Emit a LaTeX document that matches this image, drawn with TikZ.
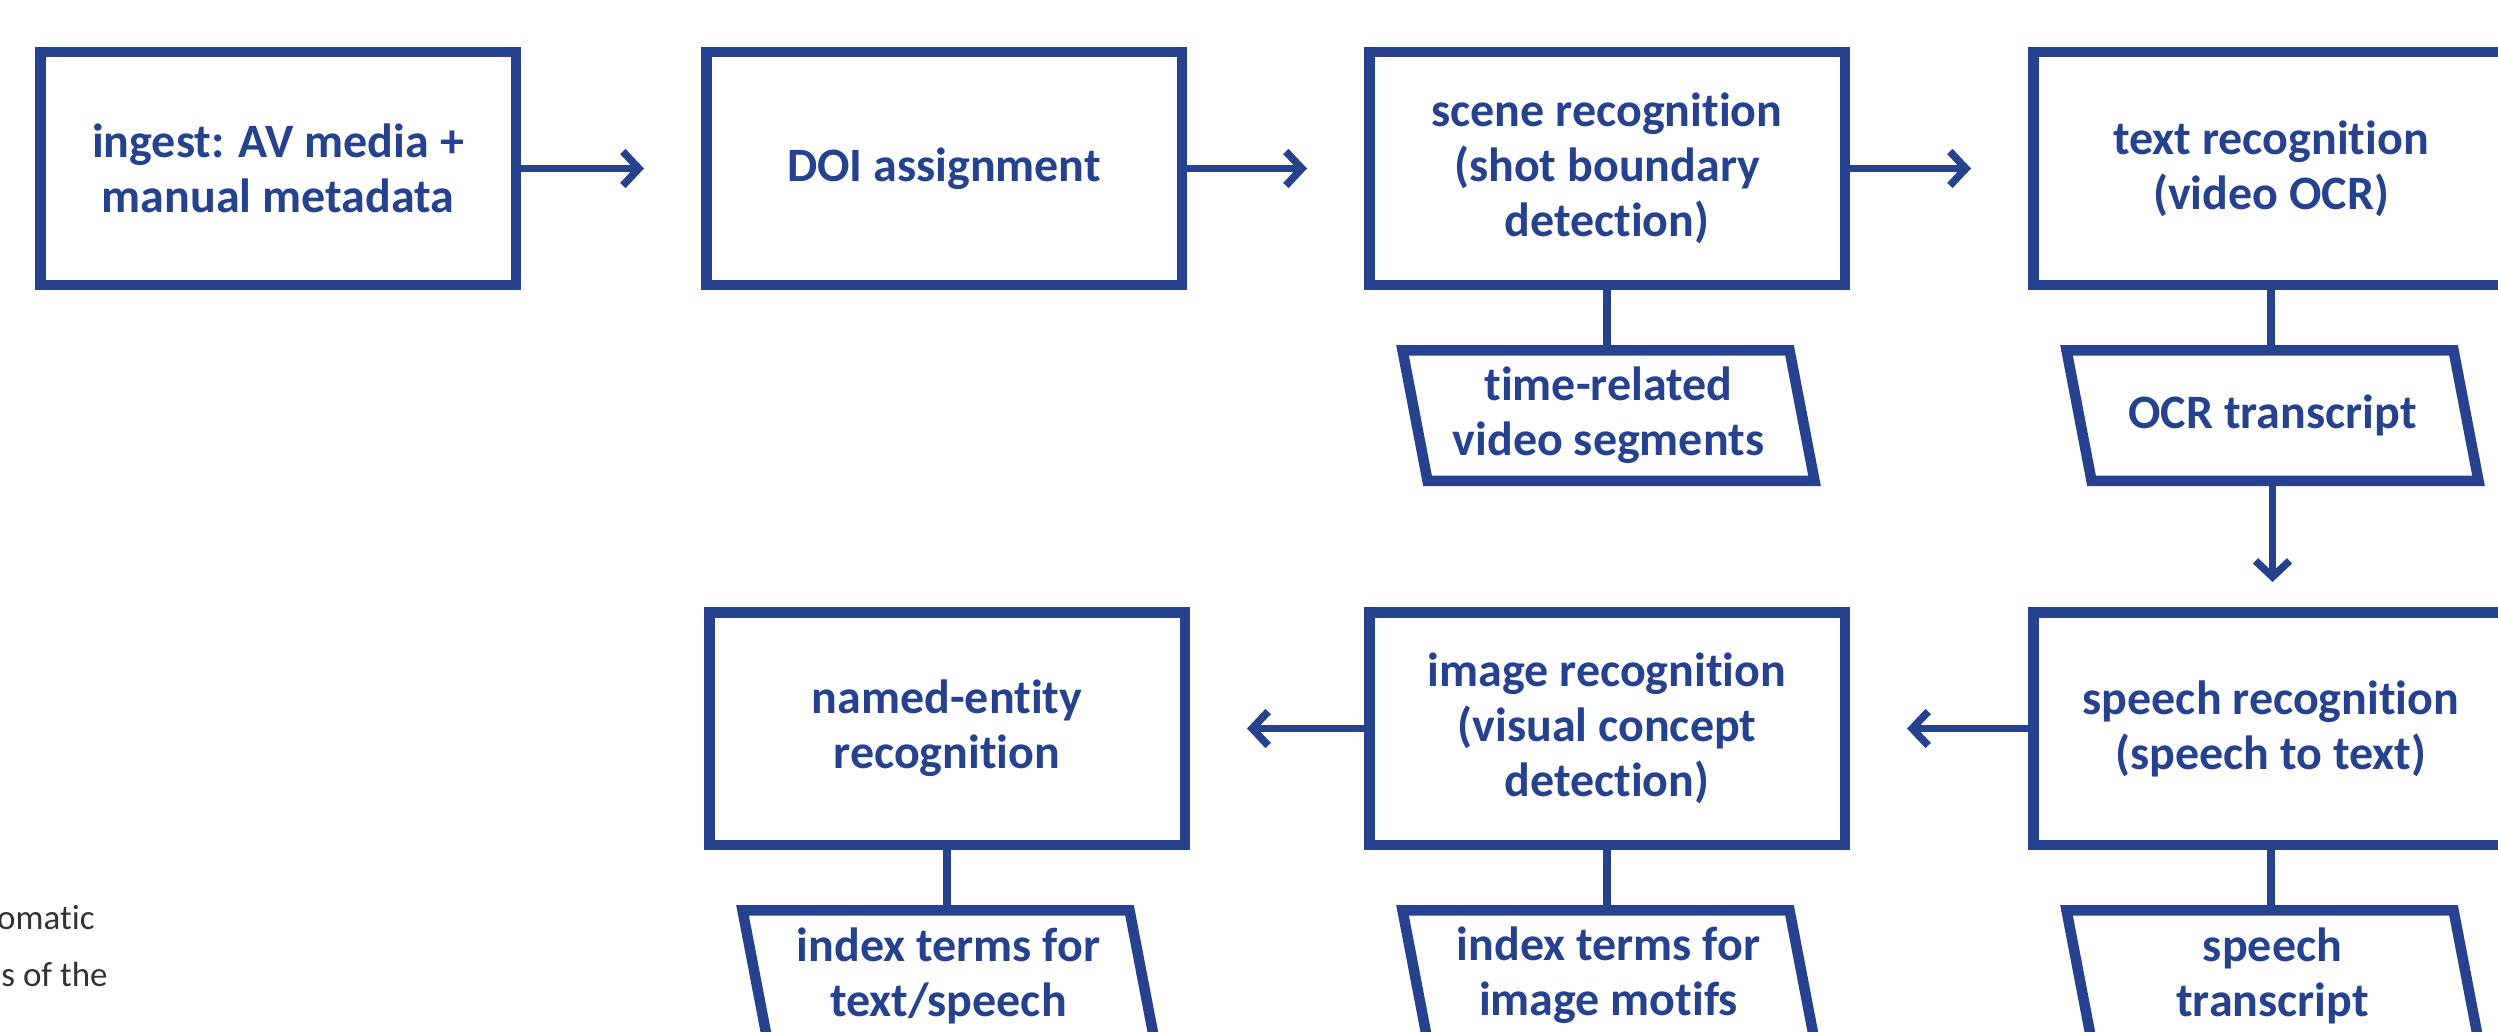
\documentclass[tikz,border=0pt]{standalone}
\usepackage{fontspec}
\setmainfont{Carlito}[Ligatures=NoCommon]
\usetikzlibrary{arrows.meta,calc}
\definecolor{dblue}{RGB}{38,66,143}
\definecolor{dgray}{RGB}{51,51,51}
\begin{document}
\begin{tikzpicture}[x=0.5pt,y=-0.5pt,
  procbox/.style={draw=dblue,line width=5.25pt,minimum width=237.75pt,minimum height=116.25pt,
    inner sep=0pt,align=center,text=dblue,font=\bfseries\fontsize{24pt}{27.5pt}\selectfont},
  datatext/.style={minimum width=180pt,minimum height=70.5pt,inner sep=0pt,outer sep=0pt,
    align=center,text=dblue,font=\bfseries\fontsize{24pt}{27.5pt}\selectfont},
  dataline/.style={draw=dblue,line width=5.25pt,line join=miter},
  conn/.style={draw=dblue,line width=3.75pt},
  arr/.style={draw=dblue,line width=3.75pt,-{Straight Barb[length=8pt,width=17pt,line join=miter]},shorten >=28.5pt},
  note/.style={text=dgray,inner sep=0pt,font=\fontsize{17.5pt}{21pt}\selectfont}]
\useasboundingbox (0,0) rectangle (2498,1032);
\clip (0,0) rectangle (2498,1032);
% process boxes
\node[procbox] (b1) at (278,168.5) {ingest: AV media +\\manual metadata};
\node[procbox] (b2) at (944,168.5) {DOI assignment};
\node[procbox] (b3) at (1607,168.5) {scene recognition\\(shot boundary\\detection)};
\node[procbox] (b4) at (2271,168.5) {text recognition\\(video OCR)};
\node[procbox] (b5) at (2271,728.5) {speech recognition\\(speech to text)};
\node[procbox] (b6) at (1607,728.5) {image recognition\\(visual concept\\detection)};
\node[procbox] (b7) at (947,728.5) {named-entity\\recognition};
% data nodes
\node[datatext] (p3) at (1608.5,415.5) {time-related\\video segments};
\node[datatext] (p4) at (2272.5,415.5) {OCR transcript};
\node[datatext] (p5) at (2272.5,975.5) {speech\\transcript};
\node[datatext] (p6) at (1608.5,975.5) {index terms for\\image motifs};
\node[datatext] (p7) at (948.5,975.5) {index terms for\\text/speech};
\foreach \p in {p3,p4,p5,p6,p7}{
  \draw[dataline] ($(\p.center)+(-206,-65.25)$) -- ($(\p.center)+(181,-65.25)$)
    -- ($(\p.center)+(206,65.25)$) -- ($(\p.center)+(-181,65.25)$) -- cycle;
}
% connectors
\draw[conn] (b3.south) -- (b3.south |- p3.north);
\draw[conn] (b4.south) -- (b4.south |- p4.north);
\draw[conn] (b5.south) -- (b5.south |- p5.north);
\draw[conn] (b6.south) -- (b6.south |- p6.north);
\draw[conn] (b7.south) -- (b7.south |- p7.north);
% arrows
\draw[arr] (b1.east) -- (b2.west);
\draw[arr] (b2.east) -- (b3.west);
\draw[arr] (b3.east) -- (b4.west);
\draw[arr,shorten >=12.5pt] (p4.south) -- (p4.south |- b5.north);
\draw[arr] (b5.west) -- (b6.east);
\draw[arr] (b6.west) -- (b7.east);
% cut-off caption text
\node[note,anchor=base east] (n1) at (95,929) {omatic};
\node[note,anchor=base east] (n2) at (108,986) {s of the};
\end{tikzpicture}
\end{document}
